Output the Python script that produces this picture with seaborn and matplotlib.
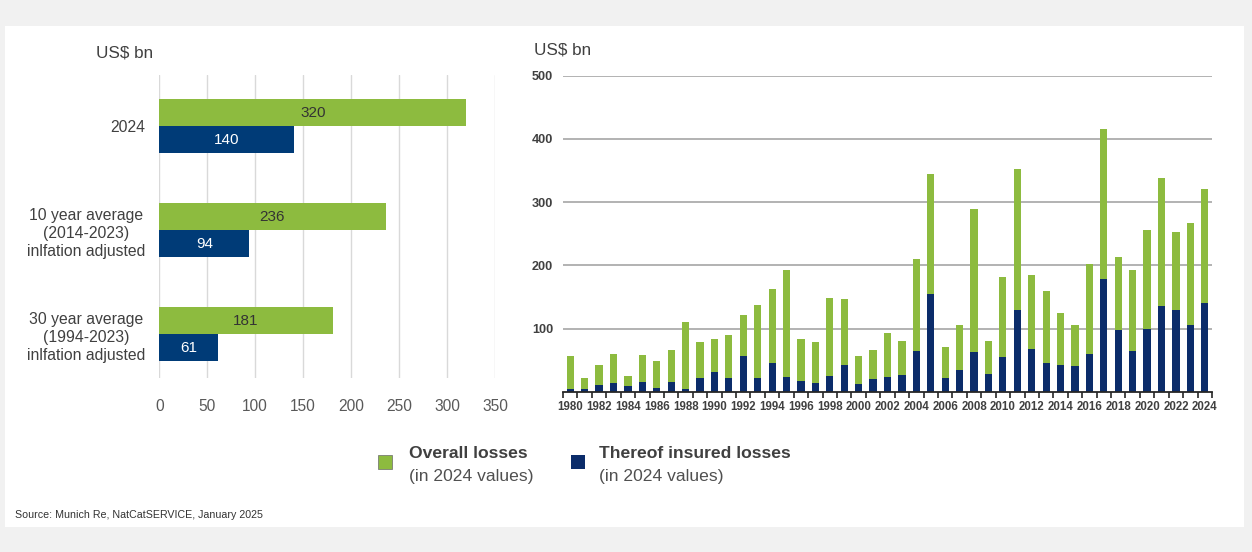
import numpy as np
import pandas as pd
import matplotlib
matplotlib.use("Agg")
import matplotlib.pyplot as plt
from matplotlib.patches import Rectangle
import seaborn as sns

# ---- data -------------------------------------------------------------
summary_labels = [
    "2024",
    "10 year average\n(2014-2023)\ninlfation adjusted",
    "30 year average\n(1994-2023)\ninlfation adjusted",
]
summary_overall = [320, 236, 181]
summary_insured = [140, 94, 61]

years = list(range(1980, 2025))
overall_losses = [56, 21, 43, 59, 25, 58, 48, 66, 111, 79,
                  84, 89, 122, 137, 163, 192, 83, 78, 148, 146,
                  56, 66, 93, 80, 210, 344, 70, 105, 289, 80,
                  182, 352, 185, 160, 125, 106, 202, 416, 213, 193,
                  256, 338, 252, 267, 320]
insured_losses = [4, 5, 10, 14, 9, 15, 6, 15, 4, 22,
                  31, 22, 56, 21, 46, 24, 17, 13, 25, 42,
                  12, 20, 24, 27, 65, 155, 21, 34, 63, 28,
                  55, 130, 68, 46, 43, 40, 60, 179, 98, 65,
                  100, 136, 129, 106, 140]

series_names = ["Overall losses", "Thereof insured losses"]
series_notes = ["(in 2024 values)", "(in 2024 values)"]

# ---- style ------------------------------------------------------------
GREEN = "#8dbb3f"
BLUE_L = "#003b77"
BLUE_R = "#0b2c6a"
TXT = "#404040"

sns.set_theme(style="white")
plt.rcParams["font.family"] = ["Liberation Sans", "DejaVu Sans"]

W, H = 1252, 552
fig = plt.figure(figsize=(W / 100, H / 100), dpi=100)
fig.patch.set_facecolor("#f1f1f1")

# background panel with a soft shaded footer
bg = fig.add_axes([0, 0, 1, 1], zorder=-5)
bg.add_patch(Rectangle((5, 26), 1239, 501, facecolor="white", edgecolor="none"))
t = np.linspace(0, 1, 200) ** 1.6
top = np.array([1.0, 1.0, 1.0])
bot = np.array([221, 217, 217]) / 255
grad = (top[None, :] * (1 - t[:, None]) + bot[None, :] * t[:, None])[:, None, :]
bg.imshow(grad, extent=(5, 1244, 527, 484), aspect="auto", interpolation="bilinear")
bg.set_xlim(0, W)
bg.set_ylim(H, 0)
bg.axis("off")

def fig_rect(x0, y0, x1, y1):
    return [x0 / W, 1 - y1 / H, (x1 - x0) / W, (y1 - y0) / H]

# ---- left: summary comparison ----------------------------------------
axL = fig.add_axes(fig_rect(159.3, 75, 495, 378))
axL.patch.set_alpha(0)
df_sum = pd.DataFrame({
    "category": summary_labels * 2,
    "value": summary_overall + summary_insured,
    "series": [series_names[0]] * 3 + [series_names[1]] * 3,
})
sns.barplot(data=df_sum, y="category", x="value", hue="series", orient="h",
            hue_order=series_names, palette=[GREEN, BLUE_L], width=0.52,
            saturation=1, legend=False, ax=axL, edgecolor="none")
axL.set_xlim(0, 350)
axL.set_ylim(2.42, -0.493)
axL.set_xticks(range(0, 351, 50))
axL.xaxis.grid(True, color="#d9d9d9", linewidth=1)
axL.set_axisbelow(True)
for s in axL.spines.values():
    s.set_visible(False)
axL.set_xlabel("")
axL.set_ylabel("")
axL.tick_params(axis="x", length=0, pad=15, labelsize=11.2, labelcolor="#595959")
axL.tick_params(axis="y", length=0, pad=10, labelsize=11.3, labelcolor=TXT)
for lbl in axL.get_yticklabels():
    lbl.set_multialignment("center")
    lbl.set_linespacing(1.25)
axL.bar_label(axL.containers[0], fmt="%d", label_type="center",
              color="#333333", fontsize=11)
axL.bar_label(axL.containers[1], fmt="%d", label_type="center",
              color="white", fontsize=11)
fig.text(96 / W, 1 - 53 / H, "US$ bn", fontsize=12.3, color=TXT,
         ha="left", va="center")

# ---- right: annual losses since 1980 ----------------------------------
axR = fig.add_axes(fig_rect(563, 75.7, 1212, 391.7))
axR.patch.set_alpha(0)
year_lbls = [str(y) for y in years]
sns.barplot(x=year_lbls, y=overall_losses, color=GREEN, width=0.5,
            saturation=1, ax=axR, edgecolor="none")
sns.barplot(x=year_lbls, y=insured_losses, color=BLUE_R, width=0.5,
            saturation=1, ax=axR, edgecolor="none")
axR.set_xlim(-0.5, len(years) - 0.5)
axR.set_ylim(0, 500)
axR.set_yticks(range(100, 501, 100))
axR.yaxis.grid(True, color="#a6a6a6", linewidth=1.2)
axR.set_axisbelow(True)
for side in ["top", "right", "left"]:
    axR.spines[side].set_visible(False)
axR.spines["bottom"].set_color("#262626")
axR.spines["bottom"].set_linewidth(1.3)
axR.spines["bottom"].set_zorder(5)
axR.set_xticks(range(0, len(years), 2))
axR.set_xticklabels(year_lbls[::2], fontweight="bold")
axR.set_xticks(np.arange(-0.5, len(years)), minor=True)
axR.tick_params(axis="x", which="major", length=0, pad=7, labelsize=8.3,
                labelcolor=TXT)
axR.tick_params(axis="x", which="minor", length=4, width=1.2, color="#262626",
                direction="out", bottom=True)
axR.tick_params(axis="y", length=0, pad=7, labelsize=9.1, labelcolor=TXT)
for lbl in axR.get_yticklabels():
    lbl.set_fontweight("bold")
axR.set_xlabel("")
axR.set_ylabel("")
fig.text(534 / W, 1 - 50 / H, "US$ bn", fontsize=12.3, color=TXT,
         ha="left", va="center")

# ---- legend -----------------------------------------------------------
for x_sq, x_txt, col, name, note in [
    (378, 409, GREEN, series_names[0], series_notes[0]),
    (571, 599, BLUE_R, series_names[1], series_notes[1]),
]:
    fig.patches.append(Rectangle((x_sq / W, 1 - 469 / H), 14 / W, 14 / H,
                                 transform=fig.transFigure, facecolor=col,
                                 edgecolor="#6a6a6a" if col == GREEN else "none",
                                 linewidth=0.5, zorder=3))
    fig.text(x_txt / W, 1 - 454 / H, name, fontsize=12.6, fontweight="bold",
             color=TXT, ha="left", va="center")
    fig.text(x_txt / W, 1 - 476 / H, note, fontsize=12.6, color="#505050",
             ha="left", va="center")

fig.text(15 / W, 1 - 515 / H, "Source: Munich Re, NatCatSERVICE, January 2025",
         fontsize=7.7, color="#333333", ha="left", va="center")

fig.savefig("out.png", dpi=100, facecolor=fig.get_facecolor())
